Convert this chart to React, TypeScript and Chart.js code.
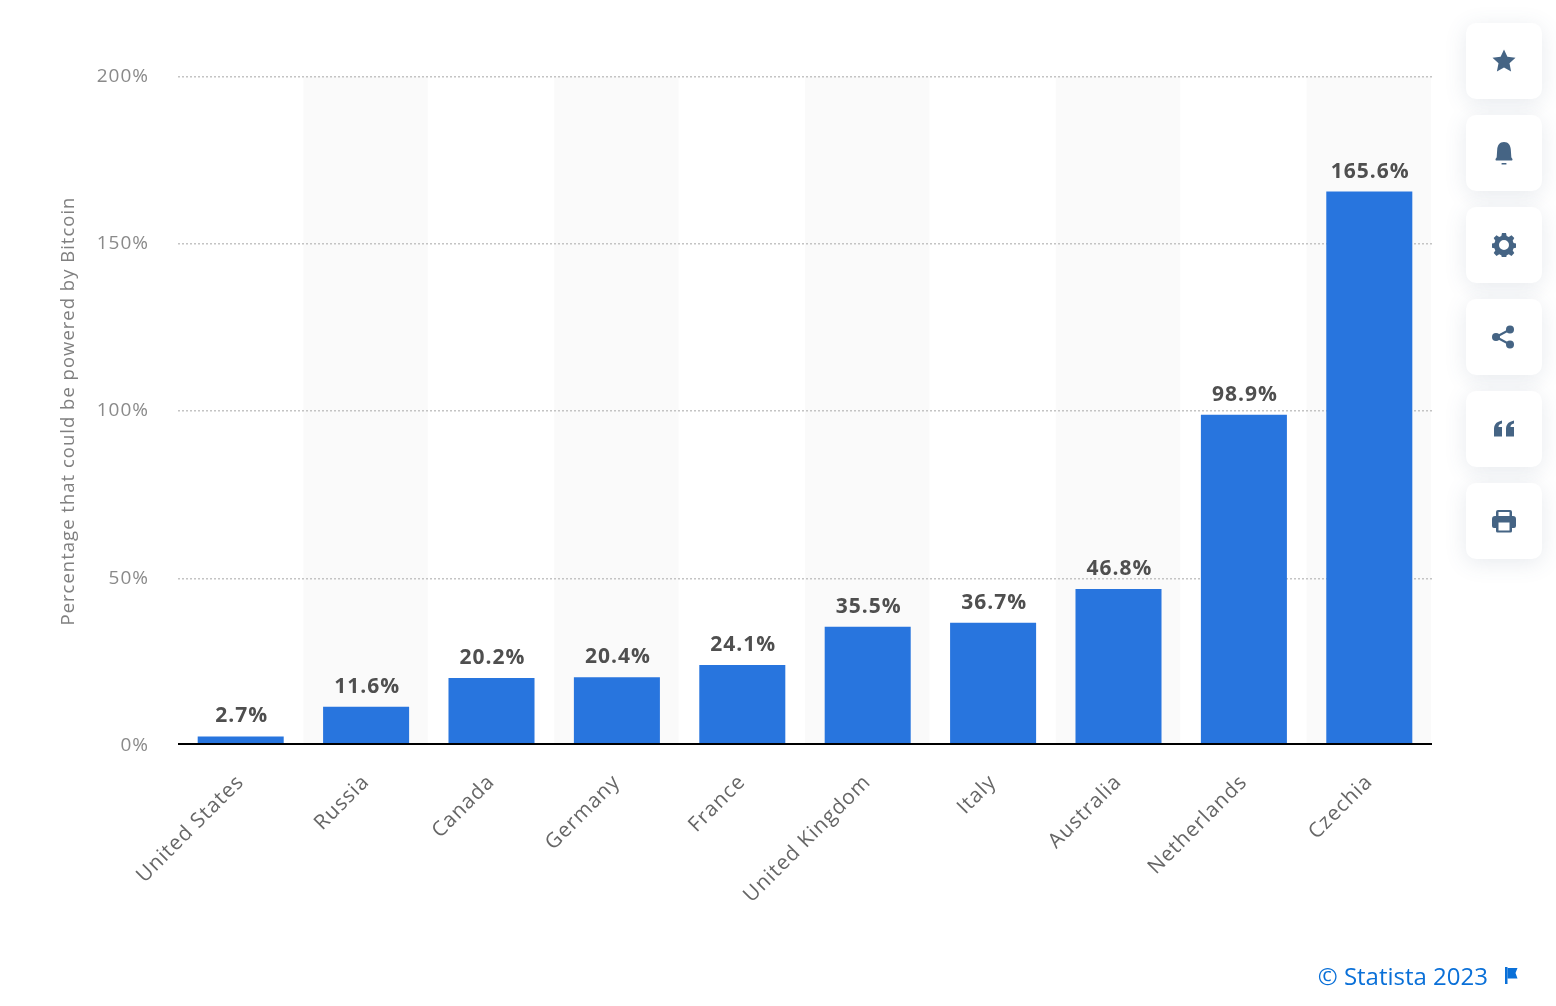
import React, { useEffect, useRef } from "react";
import { Chart, registerables } from "chart.js";

Chart.register(...registerables);

const categories = ["United States", "Russia", "Canada", "Germany", "France", "United Kingdom", "Italy", "Australia", "Netherlands", "Czechia"];
const shares = [2.7, 11.6, 20.2, 20.4, 24.1, 35.5, 36.7, 46.8, 98.9, 165.6];
const yAxisTitle = "Percentage that could be powered by Bitcoin";
const creditText = "© Statista 2023";

const FONT = '"Open Sans", sans-serif';

const zebra = {
  id: "zebra",
  beforeDraw(chart: any) {
    const { ctx, chartArea, scales } = chart;
    ctx.letterSpacing = "1px";
    ctx.save();
    ctx.fillStyle = "#fafafa";
    const step = scales.x.getPixelForValue(1) - scales.x.getPixelForValue(0);
    categories.forEach((_, i) => {
      if (i % 2 === 1) {
        const c = scales.x.getPixelForValue(i);
        ctx.fillRect(c - step / 2, chartArea.top, step - 1, chartArea.bottom - chartArea.top);
      }
    });
    ctx.restore();
  },
};

const baselineAndLabels = {
  id: "baselineAndLabels",
  afterDatasetsDraw(chart: any) {
    const { ctx, chartArea, scales } = chart;
    const meta = chart.getDatasetMeta(0);
    const zero = Math.round(scales.y.getPixelForValue(0) - 1.5);
    ctx.save();
    ctx.fillStyle = "#ffffff";
    ctx.fillRect(chartArea.left, zero, chartArea.right - chartArea.left, 4);
    ctx.fillStyle = "#000000";
    ctx.fillRect(chartArea.left, zero - 1, chartArea.right - chartArea.left, 2);
    ctx.font = `700 21px ${FONT}`;
    ctx.fillStyle = "#4f4f4f";
    ctx.textAlign = "center";
    ctx.textBaseline = "alphabetic";
    meta.data.forEach((bar: any, i: number) => {
      ctx.fillText(shares[i].toFixed(1) + "%", bar.x + 1, bar.y - 14);
    });
    ctx.restore();
  },
};

const icons: React.ReactNode[] = [
  <path d="M12 .5l3.400 7.300 8.100 1-6 5.500 1.600 8.100-7.100-4-7.100 4 1.600-8.100-6-5.500 8.100-1z" />,
  <g><path d="M12 1c4.500 0 6.500 3.500 6.800 7.500l.5 7.500c.1 1.200 1.200 1.500 1.200 2.500 0 .6-.4 1-1 1H4.500c-.6 0-1-.4-1-1 0-1 1.100-1.300 1.200-2.500l.5-7.500C5.500 4.500 7.500 1 12 1z" /><rect x="9.500" y="22" width="5" height="1.600" rx=".5" /></g>,
  <path fillRule="evenodd" d="M10 0h4l.7 3 2.100.9 2.700-1.600 2.800 2.800-1.600 2.700.9 2.100 3 .7v4l-3 .7-.9 2.100 1.600 2.700-2.800 2.800-2.700-1.600-2.100.9-.7 3h-4l-.7-3-2.100-.9-2.700 1.600-2.800-2.800 1.600-2.700-.9-2.100-3-.7v-4l3-.7.9-2.100-1.600-2.700 2.800-2.800 2.700 1.600 2.100-.9zM12 7a5 5 0 1 0 0 10 5 5 0 0 0 0-10z" />,
  <g><circle cx="18" cy="4.500" r="4" /><circle cx="18" cy="19.500" r="4" /><circle cx="4" cy="12" r="4" /><path d="M4 12l14-7.500M4 12l14 7.500" stroke="#456484" strokeWidth="2" fill="none" /></g>,
  <g><path d="M2 13c0-5 1.500-8 8-9.500v3c-2.500.6-3.500 1.600-3.500 3.500H10v9.500H2z" /><path d="M14 13c0-5 1.500-8 8-9.500v3c-2.500.6-3.500 1.600-3.500 3.500H22v9.500h-8z" /></g>,
  <path fillRule="evenodd" d="M6 1h12a2 2 0 0 1 2 2v4h1a3 3 0 0 1 3 3v7a2 2 0 0 1-2 2h-2v3a1.500 1.500 0 0 1-1.500 1.500h-13A1.500 1.500 0 0 1 4 22v-3H2a2 2 0 0 1-2-2v-7a3 3 0 0 1 3-3h1V3a2 2 0 0 1 2-2zm.500 2v4h11V3zm0 10.500v8h11v-8z" />,
];

const cardTops = [23, 115, 207, 299, 391, 483];

export default function App() {
  const ref = useRef<HTMLCanvasElement>(null);
  useEffect(() => {
    const chart = new Chart(ref.current as HTMLCanvasElement, {
      type: "bar",
      data: {
        labels: categories,
        datasets: [{
          data: shares,
          backgroundColor: "#2875de",
          barPercentage: 0.686,
          categoryPercentage: 1,
        }],
      },
      plugins: [zebra, baselineAndLabels],
      options: {
        animation: false,
        responsive: false,
        maintainAspectRatio: false,
        layout: { padding: { top: 76.5, right: 124, left: 0, bottom: 0 } },
        plugins: { legend: { display: false }, tooltip: { enabled: false }, title: { display: false } },
        scales: {
          x: {
            grid: { display: false, drawTicks: false },
            border: { display: false },
            ticks: {
              color: "#666666",
              font: { family: FONT, size: 20.7 },
              maxRotation: 45,
              minRotation: 45,
              autoSkip: false,
              padding: 24.5,
            },
            afterFit: (s: any) => { s.height = 260.5; },
          },
          y: {
            min: 0,
            max: 200,
            grid: {
              color: (c: any) => (c.tick.value === 0 ? "rgba(0,0,0,0)" : "#c4c4c4"),
              lineWidth: 1.500,
              drawTicks: false,
            },
            border: { display: false, dash: [2, 2] },
            ticks: {
              stepSize: 50,
              color: "#8a8a8a",
              font: { family: FONT, size: 19 },
              padding: 29,
              callback: (v: any) => v + "%",
            },
            title: {
              display: true,
              text: yAxisTitle,
              color: "#808080",
              font: { family: FONT, size: 18.5, weight: "400" },
              padding: { top: 58, bottom: 0 },
            },
            afterFit: (s: any) => { s.width = 178; },
          },
        },
      },
    } as any);
    return () => chart.destroy();
  }, []);

  return (
    <div style={{ position: "fixed", left: 0, top: 0, width: 1556, height: 1006, background: "#fff", overflow: "hidden" }}>
      <canvas ref={ref} width={1556} height={1006} style={{ position: "absolute", left: 0, top: 0, width: 1556, height: 1006 }} />
      {cardTops.map((top, i) => (
        <div key={top} style={{ position: "absolute", left: 1466, top, width: 76, height: 76, borderRadius: 10, background: "#fff", boxShadow: "0 4px 22px rgba(70,90,120,0.13)", display: "flex", alignItems: "center", justifyContent: "center" }}>
          <svg width="24" height="24" viewBox="0 0 24 24" fill="#456484">{icons[i]}</svg>
        </div>
      ))}
      <div style={{ position: "absolute", right: 68, top: 961, fontFamily: FONT, fontSize: 24, lineHeight: "30px", color: "#0a70d8", whiteSpace: "nowrap" }}>{creditText}</div>
      <svg style={{ position: "absolute", left: 1504, top: 967 }} width="16" height="18" viewBox="0 0 16 18" fill="#0a70d8">
        <rect x="1" y="0" width="2.500" height="17" />
        <path d="M3.500 1h10l-2 5 2 5.500h-10z" />
      </svg>
    </div>
  );
}
